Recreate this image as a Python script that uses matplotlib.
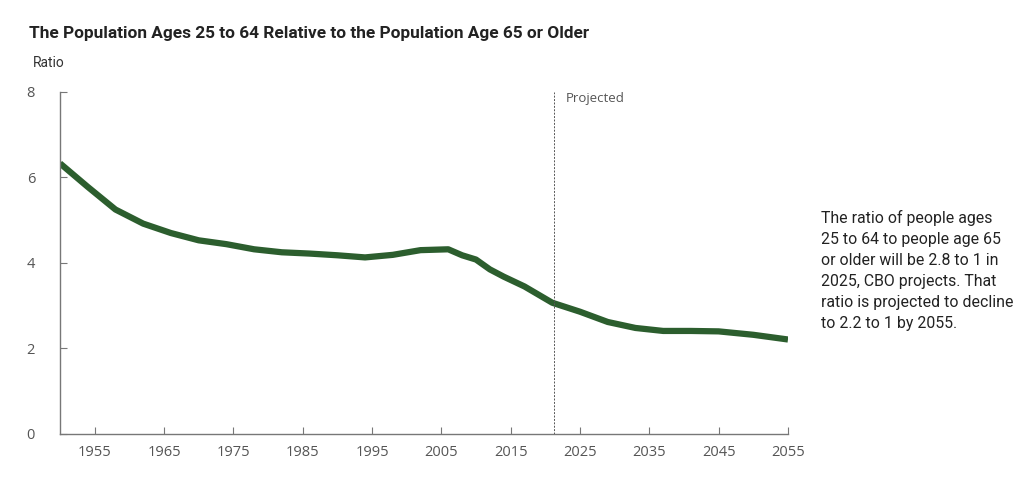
import matplotlib
matplotlib.use('Agg')
import matplotlib.pyplot as plt

# values
years = [1950, 1954, 1958, 1962, 1966, 1970, 1974, 1978, 1982, 1986, 1990, 1994,
         1998, 2002, 2006, 2008, 2010, 2012, 2014, 2017, 2021, 2025, 2029, 2033,
         2037, 2041, 2045, 2050, 2055]
ratio = [6.33, 5.78, 5.25, 4.92, 4.70, 4.53, 4.44, 4.32, 4.25, 4.22, 4.18, 4.13,
         4.19, 4.30, 4.32, 4.18, 4.08, 3.85, 3.68, 3.45, 3.07, 2.86, 2.62, 2.48,
         2.41, 2.41, 2.40, 2.32, 2.21]
xticks = [1955, 1965, 1975, 1985, 1995, 2005, 2015, 2025, 2035, 2045, 2055]
yticks = [0, 2, 4, 6, 8]
projStart = 2021.3

title = 'The Population Ages 25 to 64 Relative to the Population Age 65 or Older'
note = ('The ratio of people ages\n25 to 64 to people age 65\nor older will be 2.8 to 1 in\n'
        '2025, CBO projects. That\nratio is projected to decline\nto 2.2 to 1 by 2055.')

green = '#2c5e2e'
gray = '#555555'

fig = plt.figure(figsize=(10.24, 4.79), dpi=100)
ax = fig.add_axes([0.0586, 0.094, 0.7109, 0.714])
ax.plot(years, ratio, color=green, linewidth=4.5, solid_capstyle='butt',
        solid_joinstyle='round')
ax.axvline(projStart, color='#555555', linewidth=0.7, linestyle=(0, (2, 1.5)))
ax.text(projStart + 1.6, 7.85, 'Projected', fontsize=9.5, color=gray,
        family='Open Sans', va='center')

ax.set_xlim(1950, 2055)
ax.set_ylim(0, 8)
ax.set_xticks(xticks)
ax.set_yticks(yticks)
for s in ['top', 'right']:
    ax.spines[s].set_visible(False)
for s in ['left', 'bottom']:
    ax.spines[s].set_color('#777777')
    ax.spines[s].set_linewidth(1)
ax.tick_params(direction='in', length=5, color='#777777', labelcolor=gray,
               labelsize=10.5, pad=8)
ax.tick_params(axis='y', pad=18)
for lab in ax.get_xticklabels() + ax.get_yticklabels():
    lab.set_family('Open Sans')

fig.text(0.028, 0.93, title, fontsize=12.4, fontweight='bold', family='Roboto',
         color='#222222', va='center')
fig.text(0.032, 0.868, 'Ratio', fontsize=10, family='Roboto', color='#333333',
         va='center')
fig.text(0.802, 0.562, note, fontsize=11.4, family='Roboto', color='#222222',
         va='top', linespacing=1.5)

fig.savefig('out.png', dpi=100)
